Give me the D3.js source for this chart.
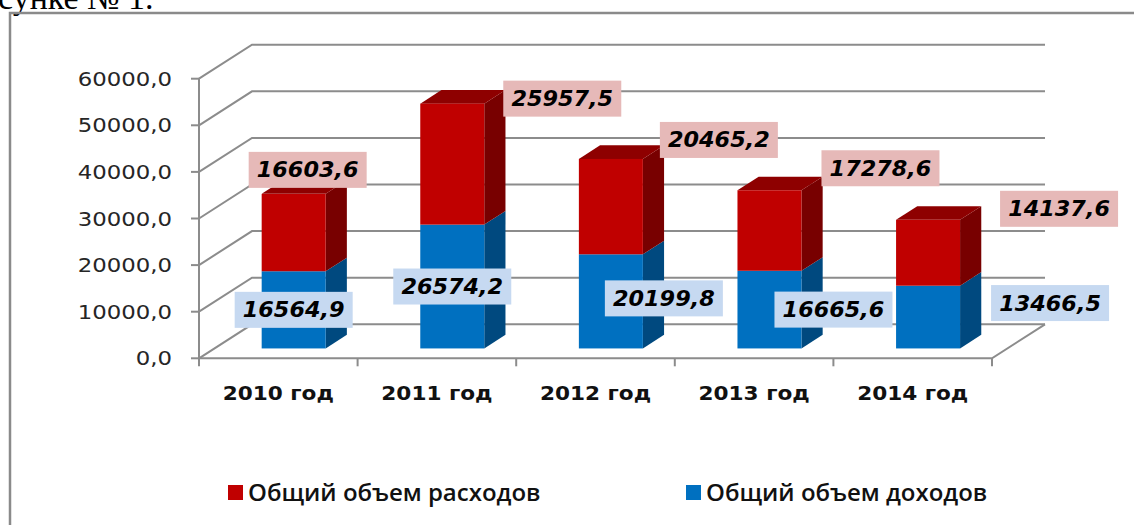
<!DOCTYPE html>
<html>
<head>
<meta charset="utf-8">
<script src="https://cdn.jsdelivr.net/npm/d3@7"></script>
<style>
  html, body { margin: 0; padding: 0; background: #fff; }
  svg { display: block; }
</style>
</head>
<body>
<svg id="chart"></svg>
<script>
// Data
const years = ["2010 год", "2011 год", "2012 год", "2013 год", "2014 год"];
const income = [16564.9, 26574.2, 20199.8, 16665.6, 13466.5];
const expenses = [16603.6, 25957.5, 20465.2, 17278.6, 14137.6];
const yTicks = [0, 10000, 20000, 30000, 40000, 50000, 60000];
const seriesNames = ["Общий объем расходов", "Общий объем доходов"];

// label nudges relative to bar anchors (manual placement in the original)
const expLabelShift = [[14, -24], [110, -5], [108, -19], [111, -22], [131, -11]];
const incLabelShift = [[0, 0], [0, 0], [53, -3], [64, 0], [122, -14]];

const W = 1134, H = 525;
const svg = d3.select("#chart").attr("width", W).attr("height", H);

const fmt = v => d3.format(".1f")(v).replace(".", ",");

// 3D box geometry
const DX = 53, DY = -34;          // full depth of the plot box
const front = 0.29, depth = 0.4;  // bar position in depth

const x = d3.scaleBand().domain(years).range([199, 992]);
const y = d3.scaleLinear().domain([0, 60000]).range([358.3, 78.7]);
const barW = 64;

const grid = "#8c8c8c";

// title fragment of the page text
svg.append("text")
    .attr("x", -2).attr("y", 9)
    .attr("font-family", "Liberation Serif")
    .attr("font-size", 34)
    .attr("fill", "#000")
    .text("сунке № 1.");

// outer frame
svg.append("rect")
    .attr("x", 10).attr("y", 13)
    .attr("width", 1140).attr("height", 540)
    .attr("fill", "none")
    .attr("stroke", "#8a8a8a")
    .attr("stroke-width", 2.5);

// walls: side wall diagonals + back wall gridlines
const gw = svg.append("g").attr("stroke", grid).attr("stroke-width", 2).attr("fill", "none");
yTicks.forEach(t => {
    gw.append("path")
        .attr("d", `M199,${y(t)} L${199 + DX},${y(t) + DY} L${992 + DX},${y(t) + DY}`);
});
// floor
gw.append("path")
    .attr("d", `M199,${y(0)} L992,${y(0)} L${992 + DX},${y(0) + DY}`);
// y axis
gw.append("line").attr("x1", 199).attr("x2", 199).attr("y1", y(60000)).attr("y2", y(0));
yTicks.forEach(t => {
    gw.append("line").attr("x1", 191).attr("x2", 199).attr("y1", y(t)).attr("y2", y(t));
});
// x axis ticks
x.domain().concat(["end"]).forEach((d, i) => {
    const xx = 199 + i * x.bandwidth();
    gw.append("line").attr("x1", xx).attr("x2", xx).attr("y1", y(0)).attr("y2", y(0) + 8);
});

// y tick labels
yTicks.forEach(t => {
    svg.append("text")
        .attr("transform", `translate(172,${y(t) + 7}) scale(1.17,1)`)
        .attr("text-anchor", "end")
        .attr("font-family", "DejaVu Sans")
        .attr("font-size", 19.5)
        .attr("fill", "#262626")
        .text(fmt(t));
});

// category labels
years.forEach(c => {
    svg.append("text")
        .attr("transform", `translate(${x(c) + x.bandwidth() / 2},400) scale(1.08,1)`)
        .attr("text-anchor", "middle")
        .attr("font-family", "DejaVu Sans")
        .attr("font-weight", "bold")
        .attr("font-size", 20)
        .attr("fill", "#111")
        .text(c);
});

// bars
const colors = {
    inc: { front: "#0070c0", side: "#00497f", top: "#005a9c" },
    exp: { front: "#c00000", side: "#780000", top: "#8e0000" }
};
const fx = front * DX, fy = front * DY, bx = depth * DX, by = depth * DY;

function box(g, x0, yTop, yBot, c, showTop) {
    const x1 = x0 + barW;
    g.append("path")
        .attr("d", `M${x1},${yBot} L${x1 + bx},${yBot + by} L${x1 + bx},${yTop + by} L${x1},${yTop} Z`)
        .attr("fill", c.side);
    if (showTop) {
        g.append("path")
            .attr("d", `M${x0},${yTop} L${x0 + bx},${yTop + by} L${x1 + bx},${yTop + by} L${x1},${yTop} Z`)
            .attr("fill", c.top);
    }
    g.append("rect")
        .attr("x", x0).attr("y", yTop)
        .attr("width", barW).attr("height", yBot - yTop)
        .attr("fill", c.front);
}

const bars = svg.append("g");
const anchors = years.map((c, i) => {
    const cx = x(c) + x.bandwidth() / 2 + fx;
    const x0 = cx - barW / 2;
    const yb = y(0) + fy;
    const yi = y(income[i]) + fy;
    const ye = y(income[i] + expenses[i]) + fy;
    box(bars, x0, yi, yb, colors.inc, false);
    box(bars, x0, ye, yi, colors.exp, true);
    return { cx, inc: (yi + yb) / 2, exp: ye };
});

// data labels
function dataLabel(cx, cy, txt, bg) {
    const bw = 118, bh = 36;
    svg.append("rect")
        .attr("x", cx - bw / 2).attr("y", cy - bh / 2)
        .attr("width", bw).attr("height", bh)
        .attr("fill", bg);
    svg.append("text")
        .attr("transform", `translate(${cx},${cy + 7.5}) scale(1.09,1)`)
        .attr("text-anchor", "middle")
        .attr("font-family", "DejaVu Sans")
        .attr("font-weight", "bold")
        .attr("font-style", "italic")
        .attr("font-size", 20.5)
        .attr("fill", "#000")
        .text(txt);
}
anchors.forEach((a, i) => {
    dataLabel(a.cx + incLabelShift[i][0], a.inc + incLabelShift[i][1], fmt(income[i]), "#c6d9f1");
    dataLabel(a.cx + expLabelShift[i][0], a.exp + expLabelShift[i][1], fmt(expenses[i]), "#e6b9b8");
});

// legend
const legend = [
    { name: seriesNames[0], color: colors.exp.front, x: 228 },
    { name: seriesNames[1], color: colors.inc.front, x: 686 }
];
legend.forEach(l => {
    svg.append("rect")
        .attr("x", l.x).attr("y", 485)
        .attr("width", 15).attr("height", 15)
        .attr("fill", l.color);
    svg.append("text")
        .attr("x", l.x + 20).attr("y", 501)
        .attr("font-family", "Open Sans")
        .attr("font-weight", 600)
        .attr("font-size", 24)
        .attr("fill", "#111")
        .text(l.name);
});
</script>
</body>
</html>
